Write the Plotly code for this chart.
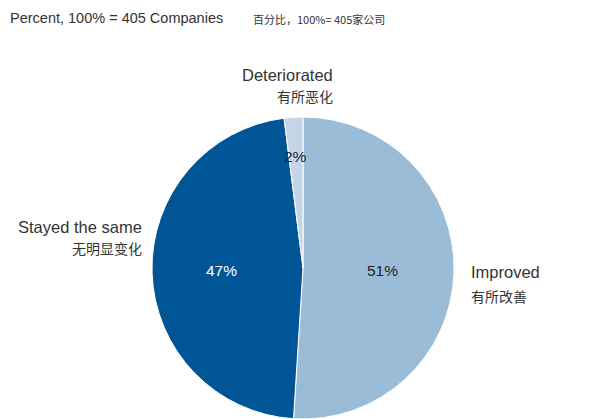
import math
import plotly.graph_objects as go

# Survey result: change reported by companies
labels_en = ["Improved", "Stayed the same", "Deteriorated"]
labels_cn = ["有所改善", "无明显变化", "有所恶化"]
values = [51, 47, 2]
colors = ["#9BBCD7", "#005596", "#C3D5E6"]
pct_font_colors = ["#222222", "#FFFFFF", "#222222"]

W, H = 590, 419
CX, CY, R = 303, 268, 151  # pie centre / radius in pixels (from top-left)


def px(x):
    return x / W


def py(y):
    return 1 - y / H


fig = go.Figure(
    go.Pie(
        labels=labels_en,
        values=values,
        sort=False,
        direction="clockwise",
        rotation=0,
        marker=dict(colors=colors, line=dict(color="white", width=1)),
        textinfo="none",
        hoverinfo="label+percent",
        showlegend=False,
        domain=dict(x=[px(CX - R), px(CX + R)], y=[0, 2 * R / H]),
    )
)

annotations = []

# Percentage labels placed at each slice's mid angle
total = sum(values)
radius_frac = [0.53, 0.54, 0.74]
start = 0.0
for v, c, rf in zip(values, pct_font_colors, radius_frac):
    mid = (start + v / 2) / total * 2 * math.pi
    start += v
    x = CX + rf * R * math.sin(mid)
    y = CY - rf * R * math.cos(mid)
    annotations.append(dict(
        x=px(x), y=py(y), xref="paper", yref="paper",
        text=f"{round(v / total * 100)}%", showarrow=False,
        font=dict(family="Liberation Sans, Arial", size=15.5, color=c),
        xanchor="center", yanchor="middle",
    ))

# Category names (English above Chinese)
label_pos = [
    (469, 272, 296, "left"),
    (144, 227, 248, "right"),
    (335, 75, 96, "right"),
]
for en, cn, (x, y_en, y_cn, anchor) in zip(labels_en, labels_cn, label_pos):
    annotations.append(dict(
        x=px(x), y=py(y_en), xref="paper", yref="paper", text=en,
        showarrow=False, xanchor=anchor, yanchor="middle",
        font=dict(family="Liberation Sans, Arial", size=16.5, color="#333333"),
    ))
    annotations.append(dict(
        x=px(x), y=py(y_cn), xref="paper", yref="paper", text=cn,
        showarrow=False, xanchor=anchor, yanchor="middle",
        font=dict(family="Noto Sans CJK SC", size=14, color="#333333"),
    ))

# Header line
annotations.append(dict(
    x=px(8), y=py(18), xref="paper", yref="paper",
    text="Percent, 100% = 405 Companies", showarrow=False,
    xanchor="left", yanchor="middle",
    font=dict(family="Liberation Sans, Arial", size=14.5, color="#333333"),
))
annotations.append(dict(
    x=px(251), y=py(19), xref="paper", yref="paper",
    text="百分比，100%= 405家公司", showarrow=False,
    xanchor="left", yanchor="middle",
    font=dict(family="Noto Sans CJK SC", size=11, color="#333333"),
))

fig.update_layout(
    width=W, height=H,
    margin=dict(l=0, r=0, t=0, b=0),
    paper_bgcolor="white", plot_bgcolor="white",
    annotations=annotations,
)

fig.write_html("out.html")
